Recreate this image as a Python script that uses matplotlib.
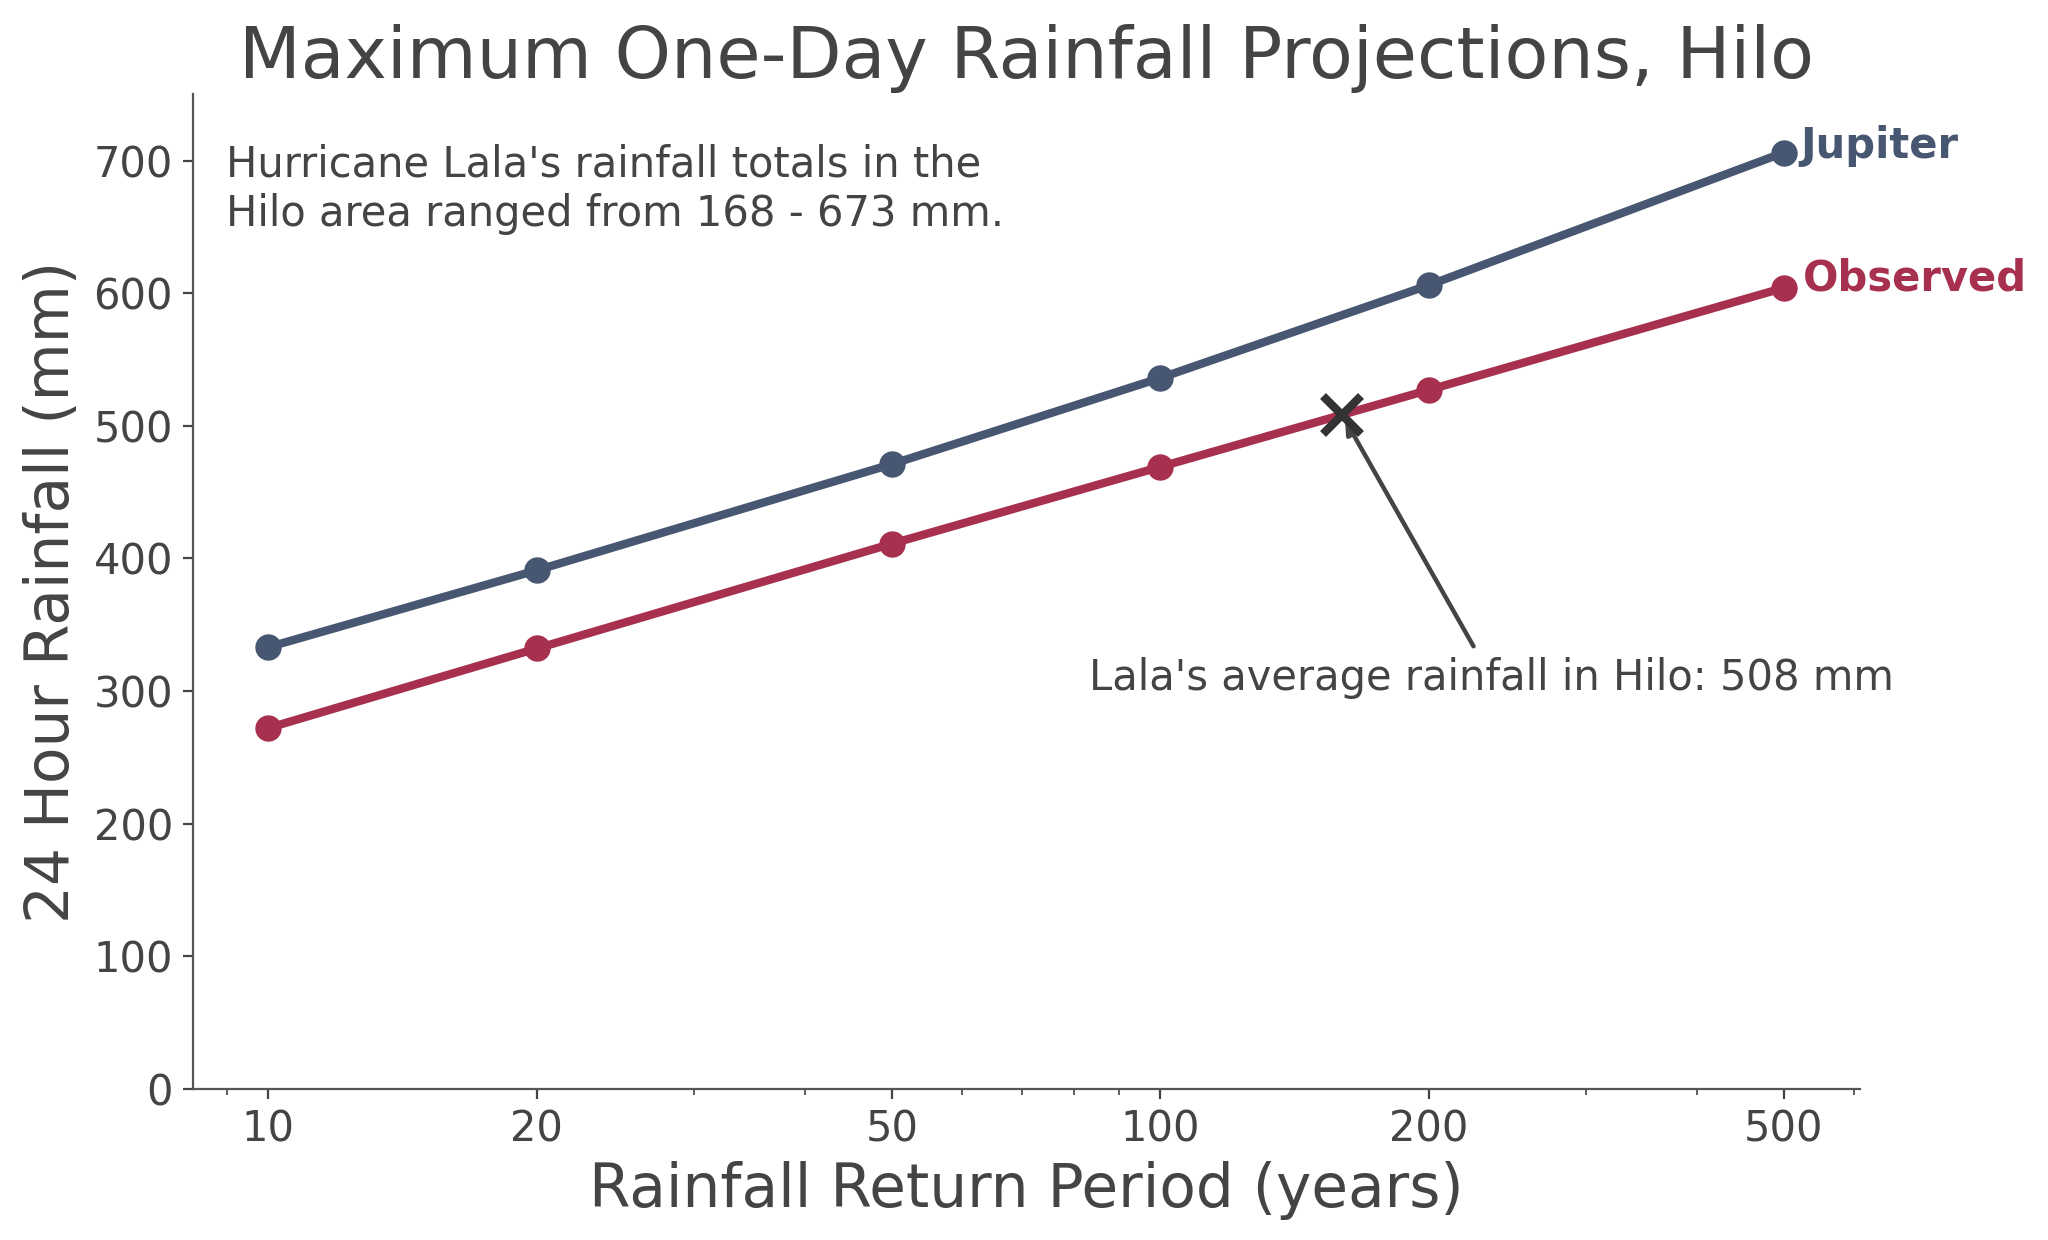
import matplotlib
matplotlib.use("Agg")
from matplotlib import pyplot as plt

return_period = [10, 20, 50, 100, 200, 500]
jupiter = [333, 391, 471, 536, 606, 706]
observed = [272, 332, 411, 469, 527, 604]
lala_period = 160
lala_avg = 508
yticks = [0, 100, 200, 300, 400, 500, 600, 700]

gray = "#444444"
blue = "#475671"
red = "#A8304F"

plt.rcParams["font.family"] = "DejaVu Sans"
plt.rcParams["text.color"] = gray
plt.rcParams["axes.labelcolor"] = gray
plt.rcParams["xtick.color"] = gray
plt.rcParams["ytick.color"] = gray

fig = plt.figure(figsize=(10.24, 6.2), dpi=200)
ax = fig.add_axes([0.094, 0.122, 0.814, 0.802])

ax.plot(return_period, jupiter, color=blue, lw=3, marker="o", ms=8.5)
ax.plot(return_period, observed, color=red, lw=3, marker="o", ms=8.5)

# series names next to the last point
ax.annotate("Jupiter", xy=(return_period[-1], jupiter[-1]), xytext=(6, 2.5),
            textcoords="offset points", color=blue, fontsize=15,
            fontweight="bold", va="center", ha="left")
ax.annotate("Observed", xy=(return_period[-1], observed[-1]), xytext=(7, 3.5),
            textcoords="offset points", color=red, fontsize=15,
            fontweight="bold", va="center", ha="left")

ax.plot([lala_period], [lala_avg], marker="x", ms=14, mew=3, color="#333333", zorder=5)
ax.annotate("Lala's average rainfall in Hilo: " + str(lala_avg) + " mm",
            xy=(lala_period, lala_avg), xytext=(235, 310),
            ha="center", va="center", fontsize=15, color=gray,
            arrowprops=dict(arrowstyle="-|>", color=gray, lw=1.6, mutation_scale=10))

ax.text(0.02, 0.95, "Hurricane Lala's rainfall totals in the\nHilo area ranged from 168 - 673 mm.",
        transform=ax.transAxes, ha="left", va="top", fontsize=15, color=gray)

ax.set_xscale("log")
ax.set_xticks(return_period, labels=[str(p) for p in return_period])
ax.set_ylim(0, 750)
ax.set_yticks(yticks)
ax.tick_params(labelsize=15)

ax.set_title("Maximum One-Day Rainfall Projections, Hilo", fontsize=25.8, color=gray)
ax.set_xlabel("Rainfall Return Period (years)", fontsize=21.5)
ax.set_ylabel("24 Hour Rainfall (mm)", fontsize=21.5)

for side in ["top", "right"]:
    ax.spines[side].set_visible(False)
for side in ["left", "bottom"]:
    ax.spines[side].set_color("#555555")

fig.savefig("out.png", dpi=200)
